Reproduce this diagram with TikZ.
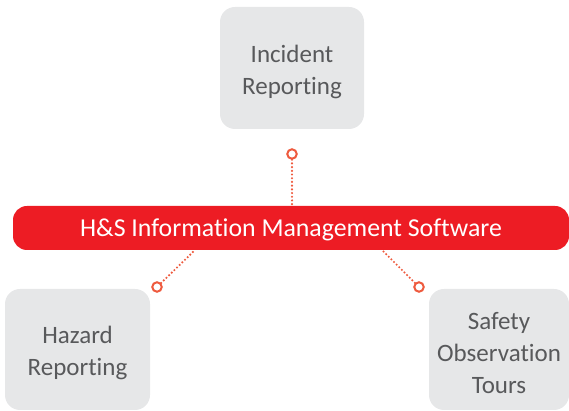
\documentclass[tikz,border=0pt]{standalone}
\usepackage{fontspec}
\setmainfont[Ligatures={NoCommon}]{Carlito}
\definecolor{barred}{HTML}{ED1C24}
\definecolor{boxgray}{HTML}{E6E7E8}
\definecolor{txtgray}{HTML}{58595B}
\definecolor{dotred}{HTML}{EE5A3E}
\begin{document}
\begin{tikzpicture}[x=1pt,y=1pt,
  graybox/.style={fill=boxgray,draw=none,rounded corners=15pt,inner sep=0pt},
  boxtext/.style={text=txtgray,align=center,font=\fontsize{25}{32}\selectfont,inner sep=0pt},
  pin/.style={circle,draw=dotred,line width=2pt,minimum size=9.5pt,inner sep=0pt,fill=white},
  dotline/.style={dotred,line width=2.4pt,dash pattern=on 0pt off 3.7pt,line cap=round}]
\useasboundingbox (0,0) rectangle (569,411);
\node[graybox,minimum width=144pt,minimum height=122pt] (inc) at (292,343) {};
\node[boxtext] (inct) at (292,339.5) {Incident\\Reporting};
\node[graybox,minimum width=145pt,minimum height=121pt] (haz) at (77.5,61.5) {};
\node[boxtext] (hazt) at (77.5,58) {Hazard\\Reporting};
\node[graybox,minimum width=140pt,minimum height=121pt] (saf) at (499,61.5) {};
\node[boxtext] (saft) at (499,58) {Safety\\Observation\\Tours};
\node[fill=barred,rounded corners=14pt,minimum width=556pt,minimum height=44pt,inner sep=0pt] (bar) at (291,183) {};
\node[text=white,inner sep=0pt,font=\fontsize{25.8}{30}\selectfont] (bart) at (291,181) {H\&S Information Management Software};
\node[pin] (p1) at (292,257) {};
\node[pin] (p2) at (157,124) {};
\node[pin] (p3) at (419,124) {};
\coordinate (b1) at (292,205);
\coordinate (b2) at (195,161);
\coordinate (b3) at (382,161);
\draw[dotline] (p1) -- (b1);
\draw[dotline] (p2) -- (b2);
\draw[dotline] (p3) -- (b3);
\end{tikzpicture}
\end{document}
